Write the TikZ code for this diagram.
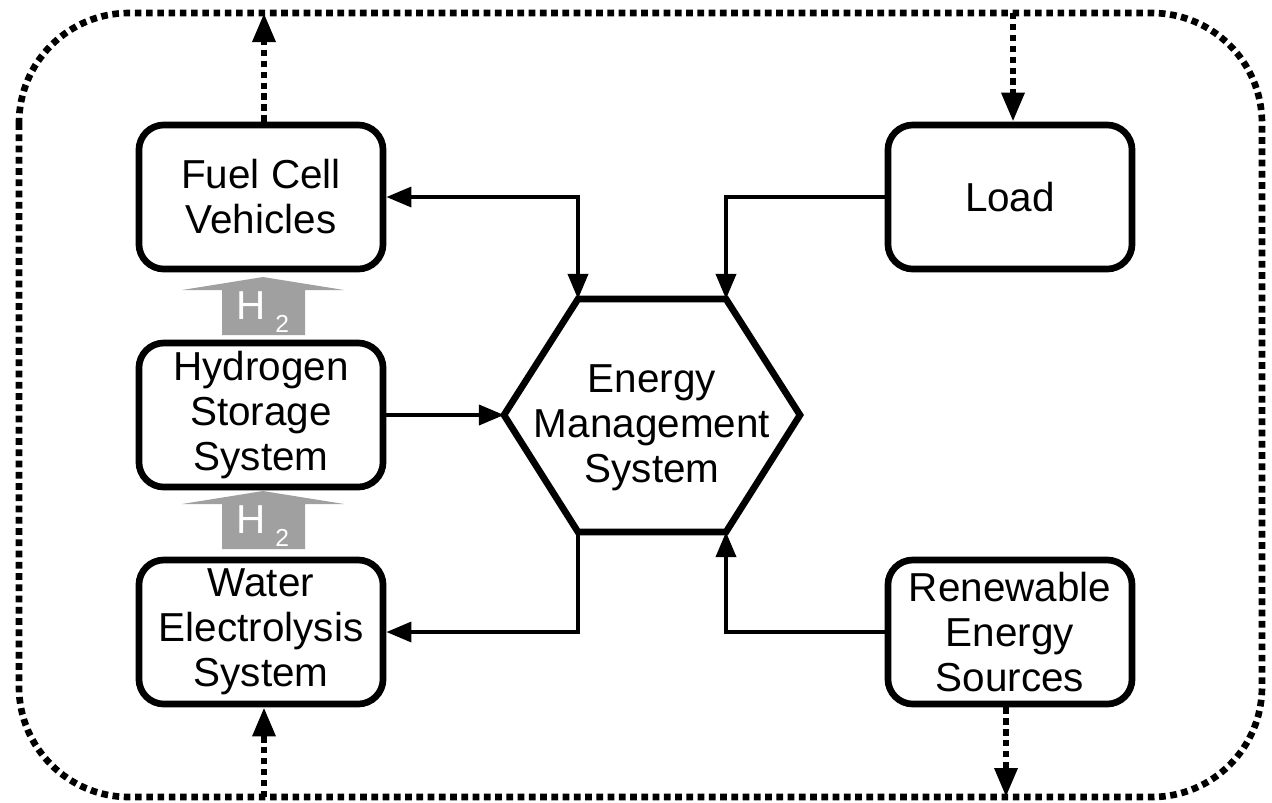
\documentclass[tikz,border=0pt]{standalone}
\usepackage{fontspec}
\setmainfont{Liberation Sans}
\usetikzlibrary{arrows.meta,calc}
\newcommand\lblfont{\fontsize{11.5}{12.8}\selectfont}
\definecolor{flowgray}{RGB}{160,160,160}
\tikzset{
  blk/.style={draw, line width=1.9pt, rounded corners=0.25cm,
    minimum width=2.44cm, minimum height=1.44cm, align=center,
    font=\lblfont, inner sep=0pt},
  tipS/.tip={Triangle[length=0.25cm, width=0.2cm]},
  tipD/.tip={Triangle[length=0.29cm, width=0.22cm]},
  link/.style={line width=1pt},
  busline/.style={line width=1.9pt, dash pattern=on 1.9pt off 1.3pt},
  dlink/.style={line width=1.8pt, dash pattern=on 1.8pt off 1.3pt},
  htwo/.pic={
    \fill[flowgray] (0,0) -- (81,13) -- (42,13) -- (42,58) -- (-41,58)
      -- (-41,13) -- (-81,13) -- cycle;
    \node[text=white, font=\lblfont, inner sep=0pt] at (0,35)
      {H\hspace{2.6pt}\raisebox{-3.7pt}{\fontsize{7}{8}\selectfont 2}};
  }
}
\begin{document}
\begin{tikzpicture}[x=0.01cm, y=-0.01cm]
\useasboundingbox (0,0) rectangle (1272,802);

% system boundary
\draw[busline, rounded corners=1.1cm] (19,13) rectangle (1262,797);

% component blocks
\node[blk] (fcv)  at (261,197) {Fuel Cell\\Vehicles};
\node[blk] (hss)  at (261,415) {Hydrogen\\Storage\\System};
\node[blk] (wes)  at (261,632) {Water\\Electrolysis\\System};
\node[blk] (load) at (1010,197) {Load};
\node[blk] (res)  at (1010,632) {Renewable\\Energy\\Sources};

% energy management hexagon
\coordinate (h1) at (578,299);
\coordinate (h2) at (726,299);
\coordinate (h3) at (800,415);
\coordinate (h4) at (726,532);
\coordinate (h5) at (578,532);
\coordinate (h6) at (504,415);
\draw[line width=1.9pt, line join=miter] (h1) -- (h2) -- (h3) -- (h4) -- (h5) -- (h6) -- cycle;
\node[align=center, font=\lblfont, inner sep=0pt] (ems) at (652,428)
  {Energy\\Management\\System};

% hydrogen flow
\pic at (263,277) {htwo};
\pic at (263,491) {htwo};

% control and power links
\draw[link, tipS-tipS] (h1) |- (fcv.east);
\draw[link, -tipS] (load.west) -| (h2);
\draw[link, -tipS] (hss.east) -- (h6);
\draw[link, -tipS] (h5) |- (wes.east);
\draw[link, -tipS] (res.west) -| (h4);

% links crossing the boundary
\coordinate (bt1) at (264,13);
\coordinate (bt2) at (1013,13);
\coordinate (bb1) at (264,797);
\coordinate (bb2) at (1006,797);
\draw[dlink, -tipD] (fcv.north -| bt1) -- (bt1);
\draw[dlink, -tipD] (bt2) -- (load.north -| bt2);
\draw[dlink, -tipD] (bb1) -- (wes.south -| bb1);
\draw[dlink, -tipD] (res.south -| bb2) -- (bb2);
\end{tikzpicture}
\end{document}
